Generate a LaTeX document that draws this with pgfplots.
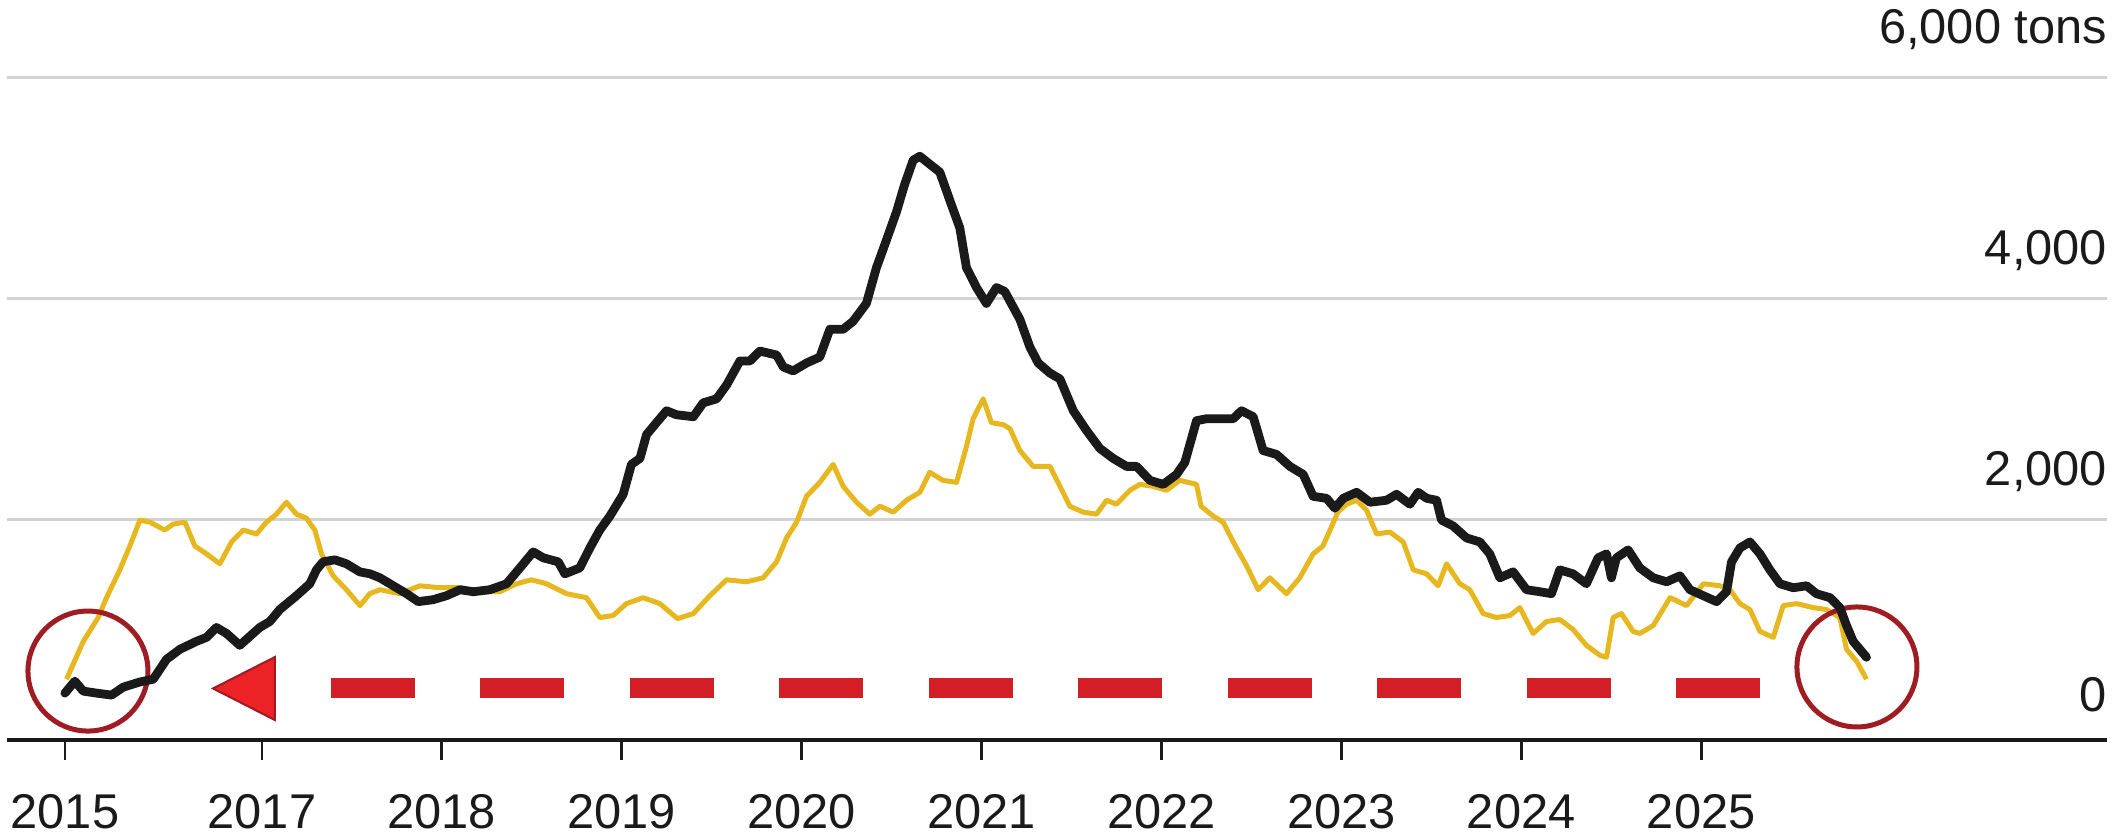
\documentclass[border=0pt]{standalone}
\usepackage{fontspec}
\setmainfont{Liberation Sans}
\usepackage{pgfplots}
\pgfplotsset{compat=1.18}
\usepackage{pgfplotstable}
\definecolor{gold}{RGB}{230,183,30}
\definecolor{ink}{RGB}{26,26,26}
\definecolor{gridgray}{RGB}{210,210,210}
\definecolor{dred}{RGB}{158,28,34}
\definecolor{dashred}{RGB}{210,30,36}
\definecolor{trired}{RGB}{236,34,38}

\pgfplotstableread{
year value
2015.905 425
2015.960 533
2016.007 443
2016.081 425
2016.164 407
2016.229 479
2016.322 526
2016.396 551
2016.470 732
2016.544 822
2016.636 894
2016.692 930
2016.747 1020
2016.803 966
2016.877 858
2016.951 966
2016.988 1020
2017.044 1074
2017.099 1182
2017.192 1308
2017.266 1416
2017.303 1542
2017.340 1615
2017.405 1633
2017.470 1597
2017.544 1524
2017.601 1506
2017.656 1470
2017.730 1398
2017.804 1326
2017.869 1254
2017.952 1272
2018.026 1308
2018.101 1362
2018.175 1344
2018.267 1362
2018.360 1416
2018.434 1560
2018.508 1705
2018.564 1651
2018.647 1615
2018.684 1506
2018.767 1560
2018.823 1741
2018.878 1903
2018.934 2029
2019.008 2227
2019.054 2498
2019.101 2552
2019.138 2768
2019.193 2876
2019.249 2984
2019.304 2948
2019.398 2930
2019.453 3056
2019.527 3092
2019.583 3218
2019.657 3435
2019.712 3435
2019.768 3525
2019.861 3489
2019.898 3381
2019.953 3345
2020.027 3417
2020.101 3471
2020.157 3723
2020.231 3723
2020.286 3795
2020.360 3957
2020.416 4282
2020.472 4534
2020.527 4786
2020.573 5038
2020.620 5255
2020.657 5291
2020.712 5219
2020.768 5147
2020.823 4894
2020.879 4642
2020.916 4282
2020.972 4101
2021.027 3957
2021.083 4101
2021.129 4065
2021.213 3813
2021.269 3561
2021.315 3417
2021.380 3326
2021.436 3272
2021.510 2984
2021.584 2804
2021.658 2642
2021.732 2552
2021.806 2480
2021.862 2480
2021.936 2353
2022.010 2317
2022.084 2407
2022.130 2516
2022.195 2894
2022.251 2912
2022.399 2912
2022.445 2984
2022.510 2930
2022.565 2624
2022.640 2588
2022.714 2480
2022.788 2407
2022.843 2209
2022.918 2190
2022.964 2101
2023.011 2191
2023.085 2245
2023.159 2155
2023.251 2173
2023.307 2227
2023.381 2137
2023.427 2245
2023.474 2191
2023.529 2173
2023.557 1993
2023.622 1939
2023.696 1831
2023.770 1795
2023.825 1687
2023.881 1470
2023.955 1524
2024.029 1362
2024.103 1344
2024.168 1326
2024.214 1542
2024.288 1506
2024.362 1416
2024.427 1651
2024.474 1687
2024.501 1470
2024.529 1651
2024.594 1723
2024.659 1560
2024.734 1470
2024.808 1434
2024.882 1488
2024.938 1362
2025.012 1308
2025.086 1254
2025.141 1344
2025.169 1615
2025.216 1741
2025.271 1795
2025.327 1687
2025.382 1542
2025.438 1416
2025.512 1380
2025.586 1398
2025.641 1326
2025.716 1290
2025.771 1200
2025.808 1038
2025.845 894
2025.919 750
}\blackdata

\pgfplotstableread{
year value
2015.914 551
2016.007 894
2016.090 1110
2016.136 1290
2016.210 1542
2016.266 1759
2016.322 1993
2016.377 1975
2016.460 1903
2016.507 1957
2016.572 1975
2016.627 1759
2016.692 1687
2016.766 1597
2016.831 1795
2016.896 1903
2016.970 1867
2017.025 1975
2017.081 2047
2017.136 2155
2017.192 2047
2017.247 2011
2017.294 1903
2017.331 1687
2017.396 1488
2017.470 1362
2017.545 1218
2017.599 1326
2017.656 1362
2017.767 1326
2017.878 1398
2017.989 1380
2018.101 1380
2018.212 1344
2018.323 1344
2018.415 1416
2018.499 1452
2018.582 1416
2018.693 1326
2018.804 1290
2018.878 1110
2018.952 1128
2019.026 1236
2019.119 1290
2019.212 1236
2019.310 1100
2019.398 1146
2019.490 1308
2019.583 1452
2019.694 1434
2019.786 1470
2019.861 1615
2019.916 1831
2019.972 1975
2020.027 2209
2020.101 2335
2020.175 2498
2020.231 2299
2020.305 2155
2020.379 2047
2020.435 2119
2020.509 2065
2020.583 2173
2020.657 2245
2020.712 2426
2020.786 2353
2020.861 2335
2020.916 2660
2020.953 2912
2021.009 3092
2021.055 2876
2021.120 2858
2021.158 2822
2021.213 2624
2021.287 2480
2021.380 2480
2021.436 2299
2021.491 2119
2021.565 2065
2021.639 2047
2021.695 2173
2021.750 2137
2021.825 2263
2021.880 2317
2021.954 2299
2022.028 2263
2022.102 2353
2022.195 2317
2022.220 2119
2022.288 2029
2022.343 1975
2022.399 1795
2022.473 1579
2022.538 1362
2022.602 1470
2022.695 1326
2022.769 1470
2022.843 1687
2022.898 1759
2022.950 1950
2022.980 2065
2023.029 2137
2023.085 2173
2023.140 2083
2023.196 1867
2023.270 1885
2023.344 1795
2023.400 1542
2023.474 1506
2023.538 1398
2023.585 1597
2023.659 1416
2023.714 1362
2023.788 1146
2023.862 1110
2023.937 1128
2023.992 1200
2024.066 966
2024.140 1074
2024.214 1092
2024.288 1002
2024.362 858
2024.437 768
2024.474 750
2024.511 1110
2024.557 1146
2024.622 984
2024.660 966
2024.734 1038
2024.827 1290
2024.919 1218
2025.012 1416
2025.104 1398
2025.160 1362
2025.216 1236
2025.271 1182
2025.327 984
2025.401 930
2025.456 1218
2025.530 1236
2025.623 1200
2025.697 1182
2025.771 1110
2025.808 822
2025.864 714
2025.919 551
}\golddata

\begin{document}
\begin{tikzpicture}
\useasboundingbox (0,0) rectangle (529.5pt,209pt);
\begin{axis}[
  at={(1.75pt,24pt)}, anchor=south west,
  scale only axis, width=525pt, height=165.5pt,
  xmin=2015.583, xmax=2027.256, ymin=0, ymax=6000,
  axis x line*=bottom, axis y line*=right,
  x axis line style={draw=ink, line width=1.2pt, -},
  y axis line style={draw=none},
  xtick={2015.905,2017,2018,2019,2020,2021,2022,2023,2024,2025},
  xticklabels={2015,2017,2018,2019,2020,2021,2022,2023,2024,2025},
  ytick={0,2000,4000,6000},
  yticklabels={0,{2,000},{4,000},{6,000 tons}},
  ymajorgrids, grid style={draw=gridgray, line width=0.75pt},
  tick align=outside, major tick length=5pt,
  xtick style={draw=ink, line width=0.7pt},
  ytick style={draw=none},
  tick label style={font=\fontsize{12.2pt}{15pt}\selectfont, text=ink},
  xticklabel style={anchor=north, inner sep=0pt, yshift=-8.5pt},
  yticklabel style={anchor=south east, inner sep=0pt, xshift=-4.8pt, yshift=6.8pt},
  clip=false,
]
\addplot[gold, line width=1.25pt, line join=round, mark=none] table[x=year,y=value]{\golddata};
\draw[dred, line width=1.25pt] (axis cs:2016.033,625) circle[radius=15pt];
\draw[dred, line width=1.25pt] (axis cs:2025.866,662) circle[radius=15pt];
\addplot[ink, line width=2.2pt, line join=round, line cap=round, mark=none] table[x=year,y=value]{\blackdata};
\draw[dashred, line width=5pt, dash pattern=on 21pt off 16.375pt] (axis cs:2017.3835,467) -- (axis cs:2025.33,467);
\filldraw[fill=trired, draw=dred, line width=0.5pt] (axis cs:2016.728,467) -- (axis cs:2017.072,752) -- (axis cs:2017.072,181) -- cycle;
\end{axis}
\end{tikzpicture}
\end{document}
